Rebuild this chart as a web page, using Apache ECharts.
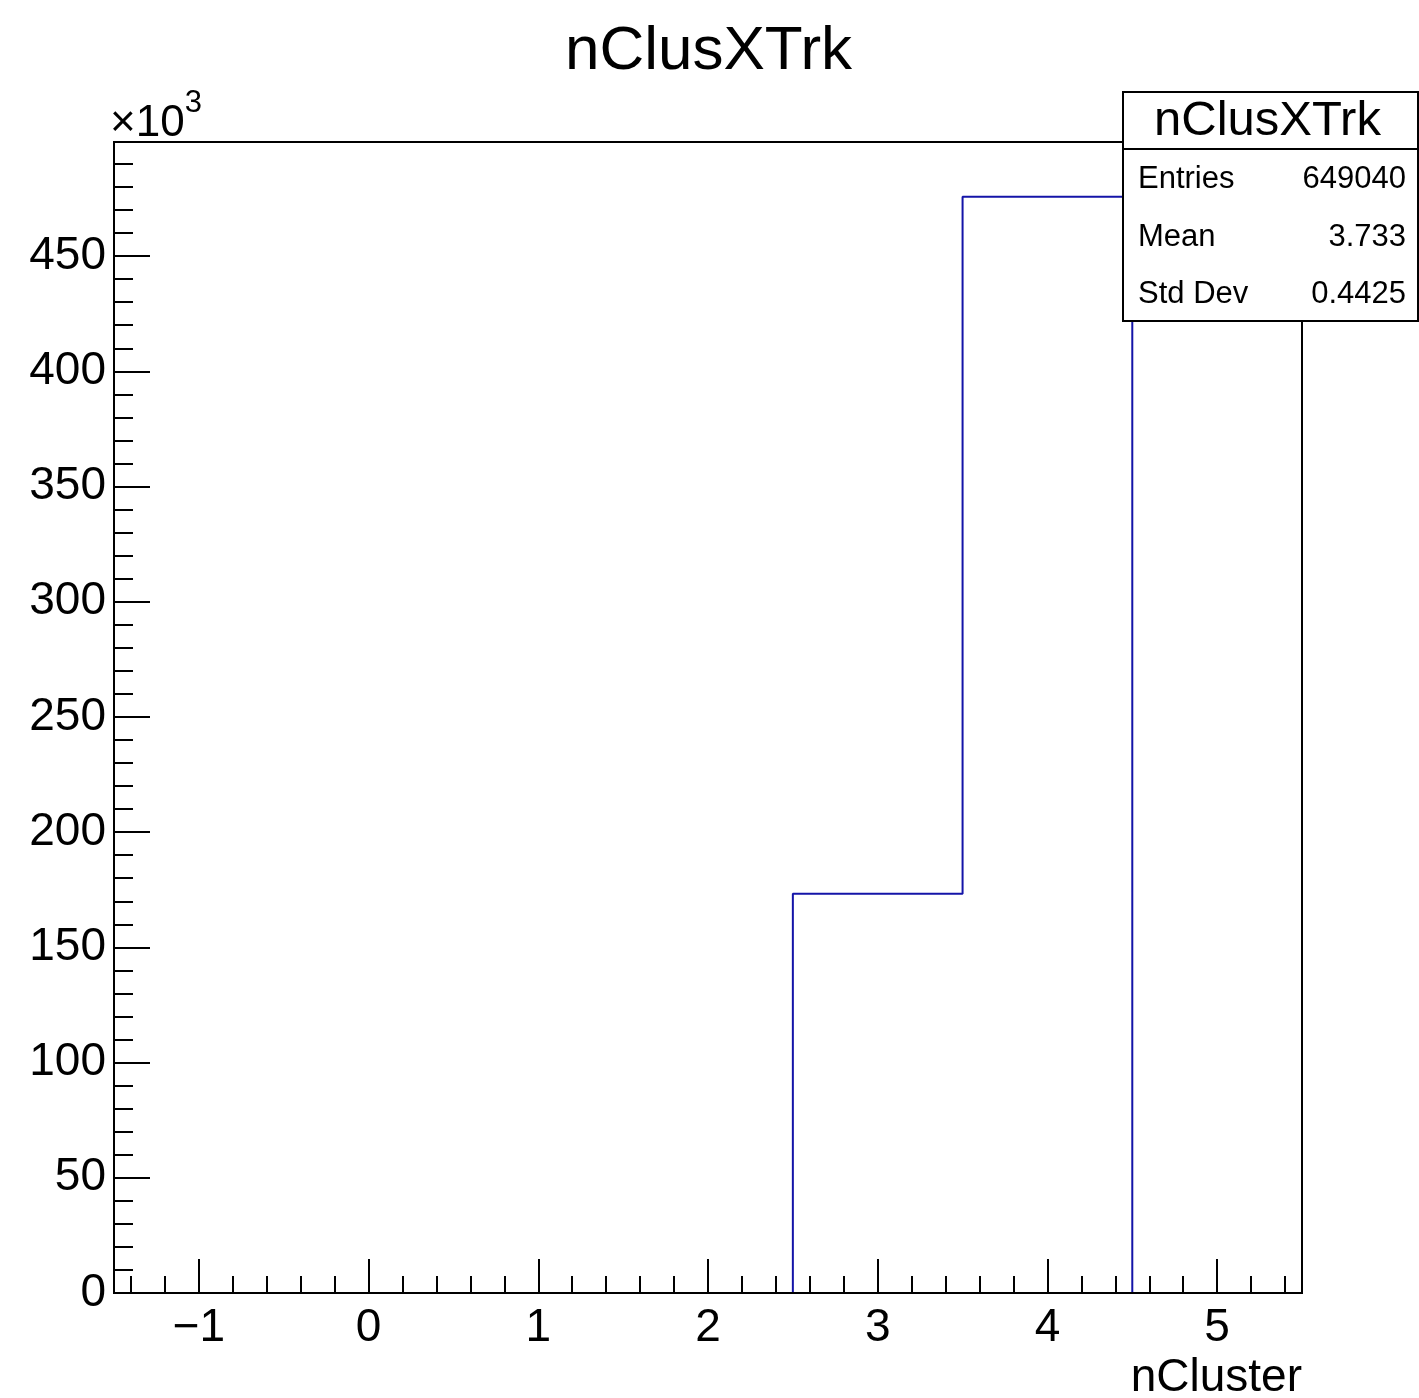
<!DOCTYPE html>
<html>
<head>
<meta charset="utf-8">
<script src="https://cdn.jsdelivr.net/npm/echarts@6/dist/echarts.min.js"></script>
<style>
  html, body { margin: 0; padding: 0; background: #fff; }
  #main { width: 1419px; height: 1398px; }
</style>
</head>
<body>
<div id="main"></div>
<script>
// histogram nClusXTrk, one bin per integer
var binCenters = [-1, 0, 1, 2, 3, 4, 5];
var binCounts = [0, 0, 0, 0, 173300, 475740, 0];
var binWidth = 1;
var xRange = [-1.5, 5.5];
var yMax = 499527;

var histTitle = 'nClusXTrk';
var xTitle = 'nCluster';
var statNames = ['Entries', 'Mean', 'Std Dev'];
var statValues = ['649040', '3.733', '0.4425'];

// step outline of the histogram
var stepPts = [[xRange[0], 0]];
for (var i = 0; i < binCenters.length; i++) {
    var lo = binCenters[i] - binWidth / 2;
    var hi = binCenters[i] + binWidth / 2;
    stepPts.push([lo, binCounts[i]]);
    stepPts.push([hi, binCounts[i]]);
}
stepPts.push([xRange[1], 0]);

var font = 'Liberation Sans, Arial, Helvetica, sans-serif';

var chart = echarts.init(document.getElementById('main'));

var statTexts = [];
for (var k = 0; k < statNames.length; k++) {
    var yy = 180 + k * 57.5;
    statTexts.push({
        type: 'text', z: 101, left: 1138, top: yy - 16,
        style: { text: statNames[k], fontFamily: font, fontSize: 31, fill: '#000' }
    });
    statTexts.push({
        type: 'text', z: 101, right: 13, top: yy - 16,
        style: { text: statValues[k], fontFamily: font, fontSize: 31, fill: '#000', align: 'right' }
    });
}

var opt = {
    animation: false,
    backgroundColor: '#fff',
    title: {
        text: histTitle,
        left: 560,
        top: 16,
        textStyle: { fontFamily: font, fontSize: 62, fontWeight: 'normal', color: '#000' }
    },
    grid: {
        left: 114, right: 117, top: 142, bottom: 105,
        outerBoundsMode: 'none', containLabel: false,
        show: true, borderColor: '#000', borderWidth: 2, backgroundColor: 'transparent'
    },
    xAxis: [{
        type: 'value', min: xRange[0], max: xRange[1], splitNumber: 7, z: 10,
        position: 'bottom',
        axisLine: { show: true, onZero: false, lineStyle: { color: '#000', width: 2 } },
        axisTick: { show: true, inside: true, length: 34, lineStyle: { color: '#000', width: 2 } },
        axisLabel: {
            showMinLabel: false, showMaxLabel: false, margin: 12,
            fontFamily: font, fontSize: 46, color: '#000',
            formatter: function (v) { return String(v).replace('-', '\u2212'); }
        },
        splitLine: { show: false },
        name: xTitle, nameLocation: 'end', nameGap: 0,
        nameTextStyle: { fontFamily: font, fontSize: 46, color: '#000', align: 'right', verticalAlign: 'top', padding: [62, 0, 0, 0] }
    }, {
        type: 'value', min: xRange[0], max: xRange[1], splitNumber: 35, z: 10,
        position: 'bottom',
        axisLine: { show: false, onZero: false },
        axisTick: { show: true, inside: true, length: 17, lineStyle: { color: '#000', width: 2 } },
        axisLabel: { show: false },
        splitLine: { show: false }
    }],
    yAxis: {
        type: 'value', min: 0, max: yMax, interval: 50000, z: 10,
        position: 'left',
        axisLine: { show: true, onZero: false, lineStyle: { color: '#000', width: 2 } },
        axisTick: { show: true, inside: true, length: 36, lineStyle: { color: '#000', width: 2 } },
        minorTick: { show: true, splitNumber: 5, length: 19, lineStyle: { color: '#000', width: 2 } },
        axisLabel: {
            showMaxLabel: false, margin: 8,
            fontFamily: font, fontSize: 46, color: '#000',
            formatter: function (v) { return String(Math.round(v / 1000)); }
        },
        splitLine: { show: false }
    },
    series: [{
        type: 'line',
        xAxisIndex: 0,
        data: stepPts,
        symbol: 'none',
        z: 2,
        lineStyle: { color: '#1414a8', width: 2 }
    }],
    graphic: [{
        type: 'text', left: 110, top: 88,
        style: {
            text: '{a|\u00d710}{b|3}', fontFamily: font,
            rich: {
                a: { fontFamily: font, fontSize: 44, fill: '#000', verticalAlign: 'bottom', padding: [14, 0, 0, 0] },
                b: { fontFamily: font, fontSize: 31, fill: '#000', verticalAlign: 'top' }
            }
        }
    }, {
        type: 'rect', z: 100,
        shape: { x: 1123, y: 92, width: 295, height: 229 },
        style: { fill: '#fff', stroke: '#000', lineWidth: 2 }
    }, {
        type: 'line', z: 101,
        shape: { x1: 1123, y1: 149, x2: 1419, y2: 149 },
        style: { stroke: '#000', lineWidth: 2 }
    }, {
        type: 'text', z: 101, left: 1154, top: 97,
        style: { text: histTitle, fontFamily: font, fontSize: 49, fill: '#000' }
    }].concat(statTexts)
};

chart.setOption(opt);
</script>
</body>
</html>
